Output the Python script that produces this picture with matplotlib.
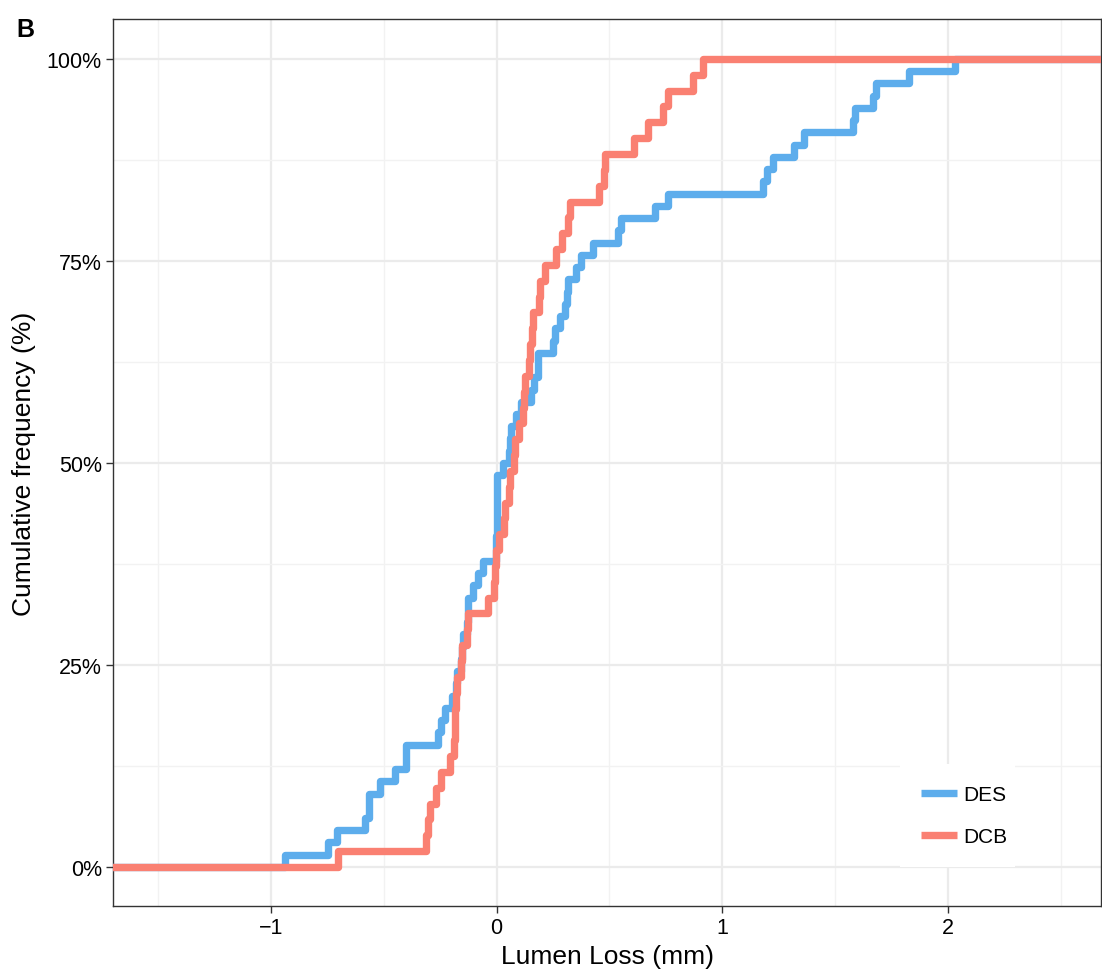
import numpy as np
import matplotlib
matplotlib.use("Agg")
import matplotlib.pyplot as plt
from matplotlib.ticker import FixedLocator

plt.rcParams['font.family'] = ['Liberation Sans', 'DejaVu Sans']

# Lumen loss values (mm) read from the ECDF steps
des_values = [-0.94, -0.747, -0.707, -0.585, -0.565, -0.565, -0.518, -0.452, -0.40, -0.40,
              -0.26, -0.245, -0.23, -0.20, -0.18, -0.178, -0.16, -0.155, -0.15, -0.13,
              -0.127, -0.125, -0.105, -0.083, -0.061, -0.005, -0.005, 0.0, 0.0, 0.0,
              0.0, 0.0, 0.027, 0.055, 0.06, 0.065, 0.087, 0.11, 0.154, 0.165,
              0.183, 0.185, 0.25, 0.26, 0.28, 0.305, 0.31, 0.315, 0.353, 0.375,
              0.427, 0.537, 0.552, 0.70, 0.76, 1.18, 1.20, 1.224, 1.32, 1.364,
              1.58, 1.587, 1.667, 1.68, 1.83, 2.03]
dcb_values = [-0.703, -0.315, -0.305, -0.295, -0.267, -0.245, -0.208, -0.19, -0.186, -0.183,
              -0.18, -0.175, -0.16, -0.155, -0.13, -0.127, -0.038, -0.01, -0.008, -0.005,
              0.01, 0.033, 0.037, 0.055, 0.06, 0.078, 0.082, 0.10, 0.115, 0.12,
              0.124, 0.143, 0.148, 0.158, 0.163, 0.188, 0.192, 0.213, 0.264, 0.29,
              0.316, 0.323, 0.452, 0.478, 0.482, 0.61, 0.67, 0.737, 0.76, 0.87,
              0.915]
series_names = ["DES", "DCB"]
series_colors = ["#5DADEC", "#FA8072"]

x_ticks = [-1, 0, 1, 2]
x_tick_labels = ["\u22121", "0", "1", "2"]
y_ticks = [0, 0.25, 0.5, 0.75, 1.0]
y_tick_labels = ["0%", "25%", "50%", "75%", "100%"]

XLIM = (-1.701, 2.681)
YLIM = (-0.0483, 1.0495)

fig = plt.figure(figsize=(11.02, 9.78), dpi=100)
ax = fig.add_axes([0.1025, 0.0726, 0.8970, 0.9070])


def ecdf_xy(vals, lo, hi):
    v = np.sort(np.asarray(vals, dtype=float))
    u, c = np.unique(v, return_counts=True)
    y = np.cumsum(c) / len(v)
    xs = np.concatenate([[lo], u, [hi]])
    ys = np.concatenate([[0.0], y, [1.0]])
    return xs, ys


for vals, name, col in zip([des_values, dcb_values], series_names, series_colors):
    xs, ys = ecdf_xy(vals, XLIM[0] - 0.1, XLIM[1] + 0.1)
    ax.step(xs, ys, where='post', color=col, lw=5.3, label=name,
            solid_joinstyle='round', solid_capstyle='butt', zorder=3)

ax.set_xlim(*XLIM)
ax.set_ylim(*YLIM)

ax.xaxis.set_major_locator(FixedLocator(x_ticks))
ax.set_xticklabels(x_tick_labels)
ax.yaxis.set_major_locator(FixedLocator(y_ticks))
ax.set_yticklabels(y_tick_labels)
ax.xaxis.set_minor_locator(FixedLocator([-1.5, -0.5, 0.5, 1.5, 2.5]))
ax.yaxis.set_minor_locator(FixedLocator([0.125, 0.375, 0.625, 0.875]))

ax.grid(which='major', color='#EBEBEB', lw=1.6, zorder=0)
ax.grid(which='minor', color='#F2F2F2', lw=1.0, zorder=0)
ax.set_axisbelow(True)
ax.tick_params(which='major', direction='out', length=5, width=1.0, color='#333333',
               labelsize=15.5, labelcolor='black', pad=3)
ax.tick_params(which='minor', length=0)
for s in ax.spines.values():
    s.set_color('#333333')
    s.set_linewidth(1.0)

ax.set_xlabel("Lumen Loss (mm)", fontsize=19, labelpad=4)
ax.set_ylabel("Cumulative frequency (%)", fontsize=19, labelpad=8)

leg = ax.legend(loc='lower left', bbox_to_anchor=(0.796, 0.044, 0.117, 0.116),
                mode='expand', frameon=True, fontsize=15, handlelength=1.75,
                handletextpad=0.3, labelspacing=1.1, borderpad=1.0, borderaxespad=0)
leg.get_frame().set_facecolor('white')
leg.get_frame().set_edgecolor('none')
leg.get_frame().set_alpha(1.0)
leg.get_frame().set_boxstyle('square', pad=0)

fig.text(0.0145, 0.969, "B", fontsize=18, fontweight='bold', ha='left', va='center')

fig.savefig("out.png", dpi=100)
